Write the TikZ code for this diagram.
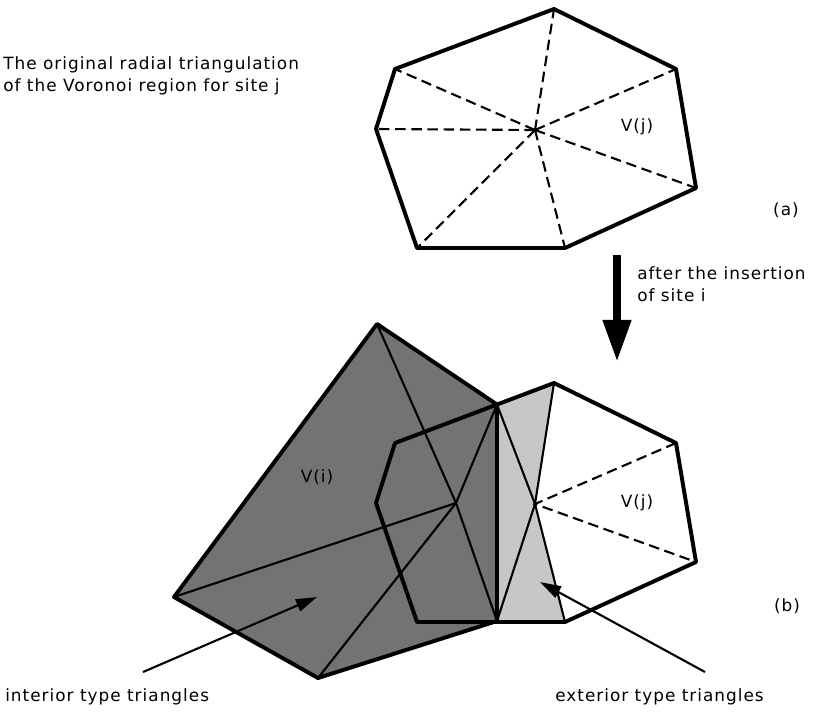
\documentclass[tikz,border=0pt]{standalone}
\usepackage{fontspec}
\setmainfont{DejaVu Sans}[LetterSpace=6]
\usepackage{tikz}
\usetikzlibrary{arrows.meta, calc}
\definecolor{cellgray}{gray}{0.45}
\definecolor{extgray}{gray}{0.78}

\begin{document}
\begin{tikzpicture}[x=0.025cm, y=-0.025cm,
    edge/.style={line width=2.8pt, line join=round},
    tri/.style={line width=1.5pt},
    radial/.style={line width=1.5pt, dash pattern=on 7.5pt off 4pt},
    txt/.style={font=\fontsize{12}{14}\selectfont, inner sep=0pt},
    pointer/.style={line width=1.5pt, -{Triangle[width=9pt,length=15pt]}}
]
\useasboundingbox (0,0) rectangle (820,713);
\foreach \n/\p in {1/{554,9}, 2/{676,69}, 3/{696,188}, 4/{565,248},
                   5/{417,248}, 6/{376,129}, 7/{395,69}} {
  \coordinate (a\n) at (\p);
  \coordinate (b\n) at ($(\p)+(0,374)$);
}
\coordinate (ac) at (535,130);
\coordinate (bc) at (535,504);
\coordinate (vt) at (377,324);
\coordinate (vl) at (174,597);
\coordinate (vb) at (318,678);
\coordinate (si) at (456,503);
\coordinate (bt) at (497,404.5);
\coordinate (bu) at (497,621);

% (a) radial triangulation of V(j)
\foreach \n in {1,...,7} \draw[radial] (ac) -- (a\n);
\draw[edge] (a1) -- (a2) -- (a3) -- (a4) -- (a5) -- (a6) -- (a7) -- cycle;
\node[txt] (vja) at (637,127) {V(j)};
\node[txt, anchor=west] (cap1) at (3,65) {The original radial triangulation};
\node[txt, anchor=west] (cap2) at (3,87) {of the Voronoi region for site j};
\node[txt] (la) at (786,210) {(a)};

\coordinate (s0) at (617,255);
\coordinate (s1) at (617,362);
\draw[line width=6pt, -{Triangle[width=19pt,length=30pt]}] (s0) -- (s1);
\node[txt, anchor=west] (ins1) at (637,273) {after the insertion};
\node[txt, anchor=west] (ins2) at (637,295) {of site i};

% (b) after the insertion
\fill[cellgray] (vt) -- (bt) -- (bu) -- (vb) -- (vl) -- cycle;
\fill[extgray] (bt) -- (b1) -- (bc) -- (b4) -- (bu) -- cycle;
\foreach \v in {vt,bt,bu,vb,vl} \draw[tri] (si) -- (\v);
\foreach \v in {bt,bu,b1,b4} \draw[tri] (bc) -- (\v);
\draw[radial] (b2) -- (bc) -- (b3);
\draw[edge] (b1) -- (b2) -- (b3) -- (b4) -- (b5) -- (b6) -- (b7) -- cycle;
\draw[edge] (vt) -- (bt) -- (bu) -- (vb) -- (vl) -- cycle;
\node[txt] (vjb) at (637,503) {V(j)};
\node[txt] (vi) at (317,477) {V(i)};
\node[txt] (lb) at (787,606) {(b)};

\coordinate (p0) at (143,672);
\coordinate (p1) at (317,597);
\coordinate (q0) at (705,672);
\coordinate (q1) at (540,582);
\draw[pointer] (p0) -- (p1);
\draw[pointer] (q0) -- (q1);
\node[txt, anchor=west] (int) at (5,697) {interior type triangles};
\node[txt, anchor=west] (ext) at (555,697) {exterior type triangles};
\end{tikzpicture}
\end{document}
